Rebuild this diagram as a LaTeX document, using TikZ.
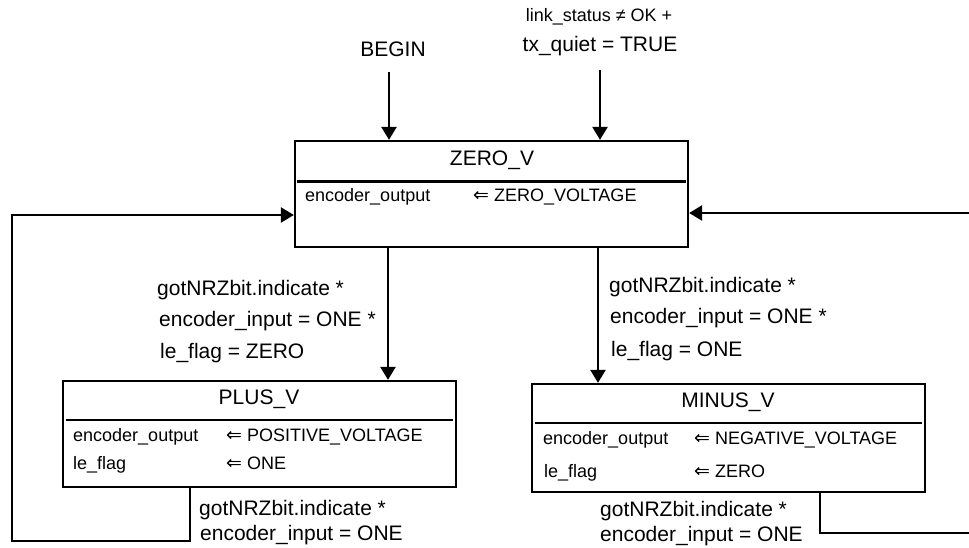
\documentclass[tikz,border=0pt]{standalone}
\usepackage{fontspec}
\setmainfont{Liberation Sans}
\newfontfamily\symf{DejaVu Sans}
\usetikzlibrary{arrows.meta}
\newcommand{\lar}{{\symf\fontsize{19}{21}\selectfont ⇐}}
\tikzset{
  line/.style={line width=2.5pt},
  arr/.style={line width=2.5pt,-{Triangle[width=15pt,length=13pt]}},
  state/.style={draw,line width=2.3pt,rectangle,minimum width=393pt,inner sep=0pt},
  lbl/.style={anchor=base west,inner sep=0pt,font=\fontsize{21}{24}\selectfont},
  ttl/.style={anchor=base,inner sep=0pt,font=\fontsize{21}{24}\selectfont},
  row/.style={anchor=base west,inner sep=0pt,font=\fontsize{18}{21}\selectfont},
  small/.style={anchor=base,inner sep=0pt,font=\fontsize{18}{21}\selectfont},
}
\begin{document}
\begin{tikzpicture}[x=1pt,y=-1pt]
\useasboundingbox (0,0) rectangle (969,548);
% states
\node[state,minimum height=106pt] (zero) at (491.5,194) {};
\node[state,minimum height=106pt] (plus) at (259.5,434) {};
\node[state,minimum height=108pt] (minus) at (728.5,438) {};
% separators
\draw[line] (297,181.5) -- (686,181.5);
\draw[line] (66,420) -- (453,420);
\draw[line] (535,423) -- (922,423);
% ZERO_V contents
\node[ttl] (zt) at (492,166) {ZERO\_V};
\node[row] (z1a) at (305,202) {encoder\_output};
\node[row] (z1b) at (473,202) {\lar\ ZERO\_VOLTAGE};
% PLUS_V contents
\node[ttl] (pt) at (259,404) {PLUS\_V};
\node[row] (p1a) at (73,441) {encoder\_output};
\node[row] (p1b) at (226,441) {\lar\ POSITIVE\_VOLTAGE};
\node[row] (p2a) at (73,469) {le\_flag};
\node[row] (p2b) at (226,469) {\lar\ ONE};
% MINUS_V contents
\node[ttl] (mt) at (728,407) {MINUS\_V};
\node[row] (m1a) at (543,444) {encoder\_output};
\node[row] (m1b) at (694,444) {\lar\ NEGATIVE\_VOLTAGE};
\node[row] (m2a) at (544,477) {le\_flag};
\node[row] (m2b) at (694,477) {\lar\ ZERO};
% top entries
\node[ttl] (begin) at (393,57) {BEGIN};
\node[small] (ls) at (599,22) {link\_status ≠ OK +};
\node[ttl] (tq) at (600,52) {tx\_quiet = TRUE};
\coordinate (b0) at (389,72);
\coordinate (t0) at (600,70);
\draw[arr] (b0) -- (b0 |- zero.north);
\draw[arr] (t0) -- (t0 |- zero.north);
% zero -> plus
\coordinate (zp) at (388,0);
\draw[arr] (zp |- zero.south) -- (zp |- plus.north);
\node[lbl] (zpl1) at (157,295) {gotNRZbit.indicate *};
\node[lbl] (zpl2) at (159,326) {encoder\_input = ONE *};
\node[lbl] (zpl3) at (160,358) {le\_flag = ZERO};
% zero -> minus
\coordinate (zm) at (598,0);
\draw[arr] (zm |- zero.south) -- (zm |- minus.north);
\node[lbl] (zml1) at (609,292) {gotNRZbit.indicate *};
\node[lbl] (zml2) at (610,323) {encoder\_input = ONE *};
\node[lbl] (zml3) at (611,356) {le\_flag = ONE};
% plus -> zero loop
\coordinate (pb) at (190,541);
\coordinate (lc) at (12,541);
\coordinate (lt) at (12,215);
\draw[arr] (pb |- plus.south) -- (pb) -- (lc) -- (lt) -- (lt -| zero.west);
\node[lbl] (pl1) at (199,515) {gotNRZbit.indicate *};
\node[lbl] (pl2) at (200,540) {encoder\_input = ONE};
% minus -> zero loop
\coordinate (mb) at (820,533);
\coordinate (rb) at (969,533);
\coordinate (rt) at (969,213);
\draw[line] (mb |- minus.south) -- (mb) -- (rb);
\draw[arr] (rt) -- (rt -| zero.east);
\node[lbl] (ml1) at (600,516) {gotNRZbit.indicate *};
\node[lbl] (ml2) at (600,541) {encoder\_input = ONE};
\end{tikzpicture}
\end{document}
